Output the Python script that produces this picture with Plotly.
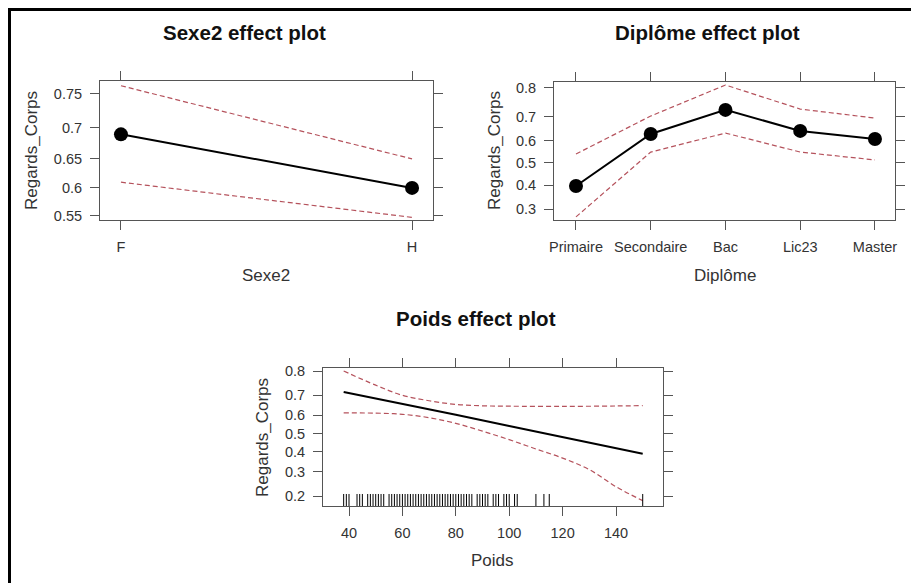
import numpy as np
import plotly.graph_objects as go

# ---------------- data ----------------
sexe_cats = ["F", "H"]
sexe_fit = [0.69, 0.60]
sexe_upper = [0.761, 0.65]
sexe_lower = [0.61, 0.547]

dipl_cats = ["Primaire", "Secondaire", "Bac", "Lic23", "Master"]
dipl_fit = [0.396, 0.630, 0.726, 0.643, 0.608]
dipl_upper = [0.541, 0.703, 0.807, 0.729, 0.695]
dipl_lower = [0.271, 0.550, 0.634, 0.550, 0.514]

poids_fit_x = [38, 60, 80, 100, 120, 140, 150]
poids_fit = [0.715, 0.66, 0.602, 0.542, 0.482, 0.42, 0.39]
poids_up_x = [38, 50, 60, 70, 80, 90, 100, 120, 140, 150]
poids_upper = [0.80, 0.745, 0.70, 0.674, 0.656, 0.649, 0.647, 0.646, 0.648, 0.65]
poids_lo_x = [38, 50, 60, 70, 80, 90, 100, 110, 120, 130, 140, 150]
poids_lower = [0.612, 0.611, 0.605, 0.587, 0.556, 0.513, 0.466, 0.415, 0.367, 0.31, 0.235, 0.184]
poids_rug = [38, 39, 40] + [v for v in range(43, 101) if v not in (46, 54, 87, 93, 97)] + [102, 103, 110, 113, 115, 150]

sexe_ticks = [0.55, 0.6, 0.65, 0.7, 0.75]
dipl_ticks = [0.3, 0.4, 0.5, 0.6, 0.7, 0.8]
poids_yticks = [0.2, 0.3, 0.4, 0.5, 0.6, 0.7, 0.8]
poids_xticks = [40, 60, 80, 100, 120, 140]


def logit(p):
    p = np.asarray(p, dtype=float)
    return np.log(p / (1 - p))


W, H = 919, 583
OFF = 8  # page body margin offset of the figure inside the window
FONT = "Liberation Sans, Arial, sans-serif"
CI_COLOR = "#b5525c"
AX_COLOR = "#555555"
TXT = "#333333"


def dx(px):
    return (px - OFF) / W


def dy(py):
    return 1 - (py - OFF) / H


fig = go.Figure()

dash_line = dict(color=CI_COLOR, width=1.2, dash="5px,3px")

# Panel 1: Sexe2
fig.add_trace(go.Scatter(x=sexe_cats, y=logit(sexe_upper), mode="lines", line=dash_line, xaxis="x", yaxis="y"))
fig.add_trace(go.Scatter(x=sexe_cats, y=logit(sexe_lower), mode="lines", line=dash_line, xaxis="x", yaxis="y"))
fig.add_trace(go.Scatter(x=sexe_cats, y=logit(sexe_fit), mode="lines+markers",
                         line=dict(color="black", width=2), marker=dict(color="black", size=14),
                         xaxis="x", yaxis="y"))

# Panel 2: Diplome
fig.add_trace(go.Scatter(x=dipl_cats, y=logit(dipl_upper), mode="lines", line=dash_line, xaxis="x2", yaxis="y2"))
fig.add_trace(go.Scatter(x=dipl_cats, y=logit(dipl_lower), mode="lines", line=dash_line, xaxis="x2", yaxis="y2"))
fig.add_trace(go.Scatter(x=dipl_cats, y=logit(dipl_fit), mode="lines+markers",
                         line=dict(color="black", width=2), marker=dict(color="black", size=14),
                         xaxis="x2", yaxis="y2"))

# Panel 3: Poids
fig.add_trace(go.Scatter(x=poids_up_x, y=logit(poids_upper), mode="lines", line_shape="spline",
                         line=dash_line, xaxis="x3", yaxis="y3"))
fig.add_trace(go.Scatter(x=poids_lo_x, y=logit(poids_lower), mode="lines", line_shape="spline",
                         line=dash_line, xaxis="x3", yaxis="y3"))
fig.add_trace(go.Scatter(x=poids_fit_x, y=logit(poids_fit), mode="lines",
                         line=dict(color="black", width=2), xaxis="x3", yaxis="y3"))

shapes = []
for v in poids_rug:
    shapes.append(dict(type="line", xref="x3", yref="y3 domain", x0=v, x1=v, y0=0, y1=0.087,
                       line=dict(color="black", width=1)))
# outer frame (top and left only)
shapes.append(dict(type="line", xref="paper", yref="paper", x0=0, x1=1, y0=dy(9.5), y1=dy(9.5),
                   line=dict(color="black", width=3)))
shapes.append(dict(type="line", xref="paper", yref="paper", x0=dx(9.5), x1=dx(9.5), y0=0, y1=dy(8),
                   line=dict(color="black", width=3)))

axis_common = dict(showline=True, linecolor=AX_COLOR, linewidth=1, mirror="ticks", ticks="outside",
                   ticklen=9, tickcolor=AX_COLOR, tickwidth=1, showgrid=False, zeroline=False,
                   automargin=False, ticklabelstandoff=5,
                   tickfont=dict(family=FONT, size=14.5, color=TXT), fixedrange=True)

fig.update_layout(
    width=W, height=H, margin=dict(l=0, r=0, t=0, b=0, pad=0, autoexpand=False),
    paper_bgcolor="white", plot_bgcolor="white", showlegend=False,
    font=dict(family=FONT, color=TXT),
    xaxis=dict(axis_common, domain=[dx(100), dx(433)], anchor="y", type="category",
               range=[-0.072, 1.072]),
    yaxis=dict(axis_common, domain=[dy(220), dy(81)], anchor="x", range=[0.169, 1.193],
               tickvals=list(logit(sexe_ticks)), ticktext=[f"{t:g}" for t in sexe_ticks]),
    xaxis2=dict(axis_common, domain=[dx(554), dx(895)], anchor="y2", type="category",
                range=[-0.294, 4.268]),
    yaxis2=dict(axis_common, domain=[dy(220), dy(82)], anchor="x2", range=[-1.046, 1.486],
                tickvals=list(logit(dipl_ticks)), ticktext=[f"{t:g}" for t in dipl_ticks]),
    xaxis3=dict(axis_common, domain=[dx(323), dx(663)], anchor="y3", range=[30.26, 157.6],
                tickvals=poids_xticks),
    yaxis3=dict(axis_common, domain=[dy(506), dy(368)], anchor="x3", range=[-1.608, 1.453],
                tickvals=list(logit(poids_yticks)), ticktext=[f"{t:g}" for t in poids_yticks]),
    shapes=shapes,
)

ann = []
def add_text(text, x, y, size, angle=0, bold=False):
    ann.append(dict(text=f"<b>{text}</b>" if bold else text, x=dx(x), y=dy(y), xref="paper", yref="paper",
                    showarrow=False, xanchor="center", yanchor="middle", textangle=angle,
                    font=dict(family=FONT, size=size, color="#111111" if bold else TXT)))

add_text("Sexe2 effect plot", 245, 33, 20.5, bold=True)
add_text("Diplôme effect plot", 707, 33, 20.5, bold=True)
add_text("Poids effect plot", 476, 318, 20.5, bold=True)
add_text("Sexe2", 266, 275, 17)
add_text("Diplôme", 725, 275, 17)
add_text("Poids", 492, 560, 17)
add_text("Regards_Corps", 32, 151, 17, angle=-90)
add_text("Regards_Corps", 495, 151, 17, angle=-90)
add_text("Regards_Corps", 263, 437, 17, angle=-90)
fig.update_layout(annotations=ann)

fig.write_html("out.html")
